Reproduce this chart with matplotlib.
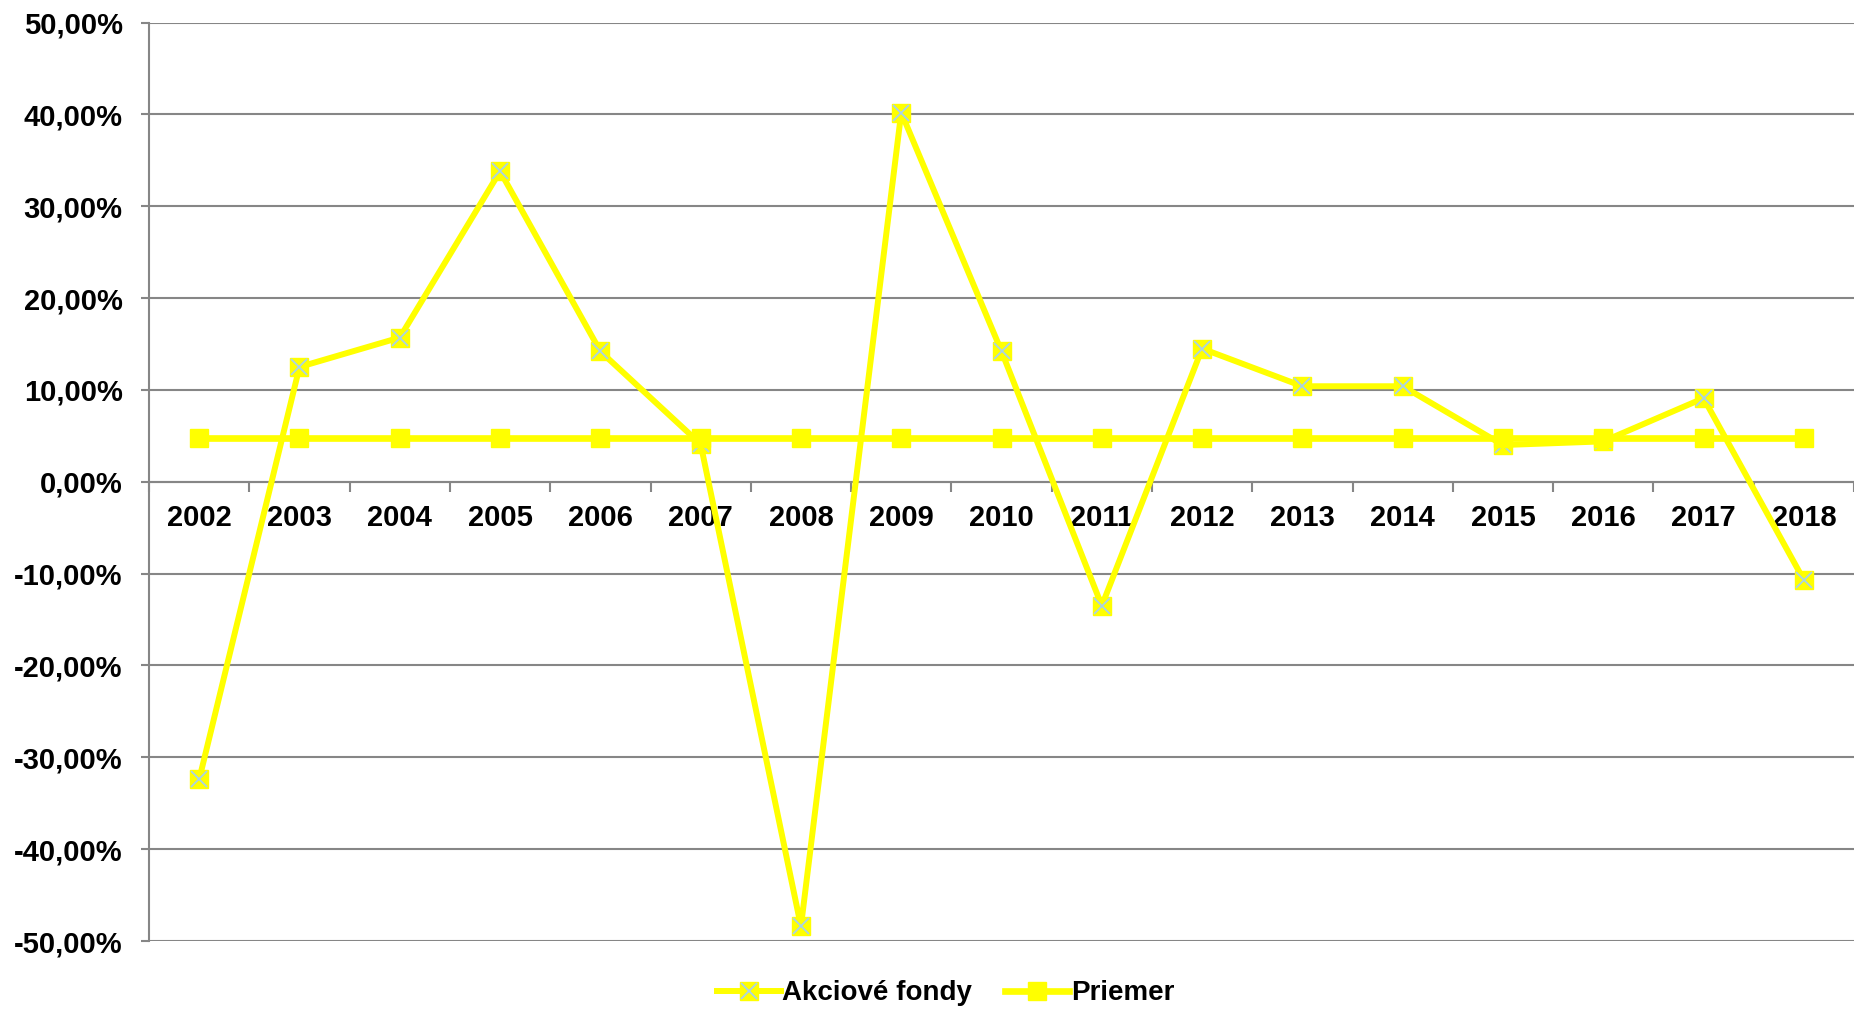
import matplotlib.pyplot as plt
from matplotlib.ticker import FuncFormatter, FixedLocator

# Values (percent)
years = ["2002", "2003", "2004", "2005", "2006", "2007", "2008", "2009", "2010",
         "2011", "2012", "2013", "2014", "2015", "2016", "2017", "2018"]
akciove_fondy = [-32.4, 12.5, 15.7, 33.8, 14.2, 4.1, -48.4, 40.2, 14.2,
                 -13.5, 14.5, 10.4, 10.4, 4.0, 4.4, 9.1, -10.7]
priemer = [4.8, 4.8, 4.8, 4.8, 4.8, 4.8, 4.8, 4.8, 4.8,
           4.8, 4.8, 4.8, 4.8, 4.8, 4.8, 4.8, 4.8]
y_ticks = [-50, -40, -30, -20, -10, 0, 10, 20, 30, 40, 50]

plt.rcParams['font.family'] = ['Liberation Sans', 'DejaVu Sans']
plt.rcParams['font.weight'] = 'bold'

YELLOW = "#FFFF00"
XBLUE = "#A9D3E6"
GRID = "#868686"
FS = 21

fig = plt.figure(figsize=(18.54, 10.10), dpi=100)
ax = fig.add_axes([0.0804, 0.0683, 0.9196, 0.9094])

x = list(range(len(years)))

# Akciove fondy: yellow square with a light blue cross on top
l1, = ax.plot(x, akciove_fondy, color=YELLOW, lw=4.3, marker='s', ms=13,
              mfc=YELLOW, mec=YELLOW, zorder=3)
l1x, = ax.plot(x, akciove_fondy, ls='none', marker='x', ms=12, mew=1.3,
               color=XBLUE, zorder=3.1)
l2, = ax.plot(x, priemer, color=YELLOW, lw=4.8, marker='s', ms=13,
              mfc=YELLOW, mec=YELLOW, zorder=4)

ax.set_xlim(-0.5, len(years) - 0.5)
ax.set_ylim(-50, 50)

ax.set_yticks(y_ticks)
ax.yaxis.set_major_formatter(FuncFormatter(lambda v, p: f"{v:.2f}%".replace(".", ",")))
ax.yaxis.grid(True, color=GRID, lw=1.5)
ax.set_axisbelow(True)

ax.set_xticks(x)
ax.set_xticklabels(years)
ax.xaxis.set_minor_locator(FixedLocator([i + 0.5 for i in range(-1, len(years))]))
ax.tick_params(axis='x', which='major', length=0, pad=16, labelsize=FS)
ax.tick_params(axis='x', which='minor', length=7, width=1.5, color=GRID, direction='out')
ax.tick_params(axis='y', length=6, width=1.5, color=GRID, pad=13, labelsize=FS)

for side in ['top', 'right']:
    ax.spines[side].set_visible(False)
ax.spines['bottom'].set_position(('data', 0))
ax.spines['bottom'].set_color(GRID)
ax.spines['bottom'].set_linewidth(1.5)
ax.spines['left'].set_color(GRID)
ax.spines['left'].set_linewidth(1.5)

fig.legend([(l1, l1x), l2], ["Akciové fondy", "Priemer"], loc='center',
           bbox_to_anchor=(0.51, 0.0165), ncol=2, frameon=False, fontsize=20,
           handlelength=2.3, handletextpad=0.05, columnspacing=1.2)

fig.savefig("out.png", dpi=100)
